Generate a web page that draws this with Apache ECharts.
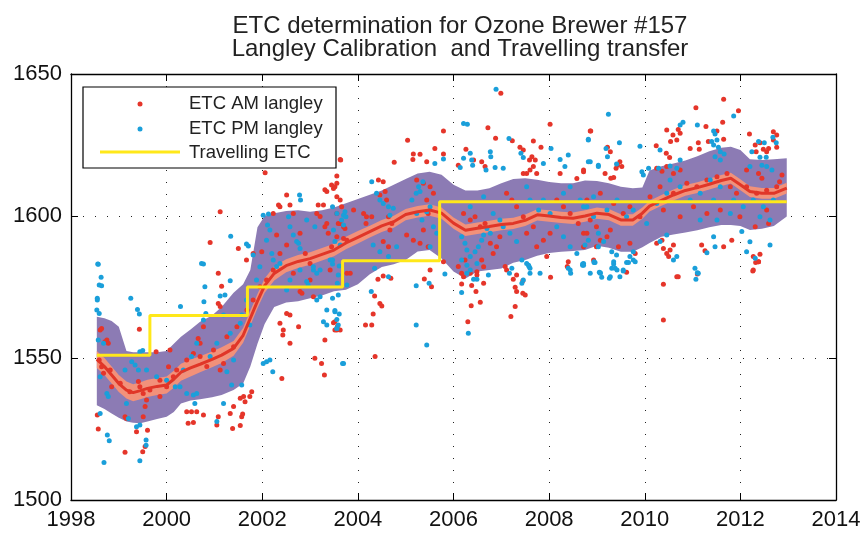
<!DOCTYPE html>
<html><head><meta charset="utf-8">
<script src="https://cdn.jsdelivr.net/npm/echarts@6/dist/echarts.min.js"></script>
<style>html,body{margin:0;padding:0;background:#fff}#c{width:864px;height:533px}</style>
</head><body><div id="c"></div>
<script>
// ---- data ----
const titleLines = ['ETC determination for Ozone Brewer #157', 'Langley Calibration  and Travelling transfer'];
const xTicks = [1998, 2014, 2];
const yTicks = [1500, 1650, 50];
const seriesNames = ['ETC AM langley', 'ETC PM langley', 'Travelling ETC'];

const bandX = [1998.54,1998.7,1998.85,1999.0,1999.16,1999.3,1999.45,1999.6,1999.8,2000.0,2000.15,2000.3,2000.5,2000.7,2000.95,2001.15,2001.4,2001.6,2001.75,2001.9,2002.05,2002.25,2002.5,2002.75,2003.0,2003.25,2003.5,2003.75,2004.0,2004.25,2004.5,2004.75,2005.0,2005.25,2005.5,2005.75,2006.0,2006.25,2006.5,2006.75,2007.0,2007.25,2007.5,2007.75,2008.0,2008.25,2008.5,2008.75,2009.0,2009.25,2009.5,2009.75,2009.95,2010.1,2010.35,2010.6,2010.85,2011.1,2011.35,2011.6,2011.8,2012.0,2012.2,2012.45,2012.7,2012.97];
const bandHi = [1564.5,1564,1563,1561,1552.5,1552,1552,1552,1552,1552.5,1555,1557.5,1560,1562.8,1565,1568,1573,1576,1581,1596,1600,1601,1601.8,1602,1601.5,1602,1603,1604.5,1606,1607.5,1609,1611,1613,1615,1615.6,1614.5,1611,1609,1609,1609.8,1611.5,1613,1613.3,1612.8,1612,1611.5,1611.5,1612.5,1612.3,1611.5,1610.3,1609.8,1610,1616,1617.5,1618.5,1619.5,1621,1622.8,1624,1624.4,1623.2,1620,1619.7,1620,1620.3];
const bandLo = [1533.4,1532,1530.5,1529,1527.6,1527.2,1527,1527.6,1528.5,1529.3,1531,1534,1535,1535.5,1536.2,1537,1538.7,1541,1547,1555,1562,1568,1569.5,1570,1571,1572,1573.5,1574,1576,1579.5,1582,1583,1584.5,1587.5,1588,1585,1580.5,1578,1580.5,1581,1581.5,1583.5,1584.5,1586,1587,1587.4,1587.7,1588,1589.5,1588.8,1587.4,1587.4,1589,1590.5,1592.7,1593.5,1594.2,1595,1596,1596.8,1596.8,1596.5,1595.1,1595.5,1596.5,1599.8];
const meanY = [1549.5,1547,1544,1541,1538.7,1537.8,1538.5,1539.3,1540,1540.5,1542.5,1545,1546.5,1547.8,1549.5,1551,1553.4,1558,1564,1570,1575.5,1579.8,1582.5,1584,1585,1586.5,1588,1590.5,1592.5,1594.5,1596.5,1598,1600.5,1601.5,1602.1,1601,1597.5,1595,1595.7,1596.3,1597,1597.4,1598.5,1600.4,1600,1599.5,1599.2,1600,1601,1600.5,1598.6,1598.6,1601,1603.5,1605.5,1607.4,1609,1610,1611.2,1612.5,1613.3,1611,1608.6,1608,1608,1609.8];
const meanErr = [3,3,3,3,3,3,3,3,3,3,3,3,3,2.8,2.8,2.8,2.6,2.6,2.6,2.5,2.5,2.5,2.3,2.3,2.2,2.2,2.2,2.2,2.2,2.1,2.1,2.1,2,2,2,2,2,2,2,2,2,2,2,2,2,2,2,2,2,2,2,2,2,1.9,1.9,1.9,1.9,1.9,1.9,1.9,1.9,1.9,1.9,1.9,1.9,1.9];

const stepX = [1998.54, 1999.65, 2001.69, 2003.68, 2005.71, 2012.97];
const stepY = [1551, 1565, 1575, 1584.2, 1605, 1605];

const amPts = [
[1998.64,1560.4],[1998.61,1559.9],[1998.71,1555.7],[1998.75,1556.3],[1998.78,1555.2],[1998.59,1549.3],[1998.64,1546.9],[1998.68,1544.6],[1998.82,1545.8],[1998.85,1539.9],[1998.55,1529.9],[1998.57,1525.0],[1999.13,1516.8],[1999.13,1529.3],[1999.16,1528.7],[1999.43,1560.1],[1999.78,1552.2],[1999.50,1517.0],[1999.55,1518.8],[1999.37,1524.0],[1999.60,1524.6],[1999.51,1529.3],[1999.55,1532.9],[1999.58,1535.2],[1999.51,1537.5],[1999.44,1539.9],[1999.41,1541.7],[1999.23,1538.1],[1999.03,1541.1],[2000.07,1552.8],[2000.04,1546.9],[2000.14,1543.4],[2000.66,1556.9],[2000.70,1555.2],[2001.08,1579.8],[2001.15,1575.3],[2001.08,1569.2],[2001.12,1568.1],[2001.19,1548.1],[2001.12,1545.8],[2000.42,1531.1],[2000.52,1531.1],[2000.63,1531.1],[2000.45,1527.0],[2000.56,1527.3],[2000.77,1529.9],[2001.08,1529.3],[2001.05,1526.4],[2001.38,1525.2],[2001.54,1526.2],[2001.33,1530.5],[2001.40,1532.9],[2001.57,1529.3],[2001.61,1536.4],[2001.64,1534.6],[2001.54,1535.8],[2001.59,1530.3],[2001.74,1536.4],[2001.78,1538.1],[2002.41,1542.8],[2002.37,1562.2],[2002.44,1559.9],[2002.43,1558.1],[2002.58,1555.2],[2002.51,1565.7],[2002.58,1565.1],[2002.76,1561.0],[2003.10,1549.9],[2003.30,1544.0],[2003.31,1556.3],[2003.24,1548.1],[2003.52,1562.8],[2003.56,1559.9],[2003.63,1559.9],[2002.79,1573.4],[2002.83,1572.8],[2003.07,1571.6],
[1999.86,1542.2],[2000.21,1545.8],[2000.42,1549.3],[2000.70,1550.5],[2000.84,1547],[2000.98,1552.8],[2001.26,1557.5],[2001.40,1554],[2001.47,1561],[2001.68,1566.9],[2001.81,1570.4],[2001.95,1575.1],[2002.09,1577.5],[2002.23,1581],[2002.65,1579.8],[2003.0,1577.5],[2003.42,1581],[2003.77,1579.8],[2000.77,1561],[2000.56,1551.6],[1999.65,1538.7],[1999.86,1536.4],[2000.0,1539.9],
[2003.63,1619.9],[2002.06,1615.2],[2003.56,1614.1],[2003.56,1611.5],[2003.49,1609.7],[2003.31,1609.2],[2003.35,1608.6],[2002.51,1607.4],[2002.34,1603.9],[2002.37,1603.3],[2001.12,1601.5],[2002.58,1603.9],[2002.65,1600.9],[2002.23,1600.9],[2003.17,1603.9],[2003.28,1603.9],[2003.14,1600.9],[2003.21,1599.8],[2003.35,1597.4],[2003.31,1596.2],[2003.38,1593.9],[2003.56,1592.7],[2003.70,1592.1],[2003.63,1597.4],[2003.70,1596.2],[2000.91,1590.7],[2001.50,1588.6],[2001.67,1584.5],[2001.81,1586.8],[2001.99,1587.4],[2002.30,1593.3],[2002.37,1586.8],[2002.51,1589.8],[2002.90,1586.8],[2003.00,1583.3],[2002.79,1593.9],[2003.91,1602.1],
[2006.99,1643.2],[2006.72,1631.1],[2005.79,1629.9],[2005.04,1626.7],[2006.88,1627.4],[2007.23,1626.5],[2008.02,1632.3],[2008.86,1629.9],[2007.67,1626.4],[2007.39,1624.2],[2007.46,1623.2],[2007.83,1624.2],[2005.61,1623.8],[2005.79,1621.8],[2005.16,1621.8],[2005.30,1621.7],[2003.64,1619.7],[2004.76,1618.9],[2005.15,1619.9],[2005.44,1619.1],[2006.10,1617.9],[2006.42,1619.7],[2006.26,1623.5],[2006.66,1617.4],[2006.59,1619.1],[2007.59,1619.7],[2007.64,1620.9],[2007.71,1619.7],[2007.60,1616.2],[2007.67,1617.4],[2007.53,1615.0],[2007.74,1615.0],[2007.46,1615.0],[2004.43,1612.7],[2004.53,1612.1],[2008.23,1615.0],[2008.72,1616.2],[2008.58,1613.2],
[2003.45,1610.9],[2003.52,1610.3],[2003.56,1606.8],[2003.63,1605.6],[2003.66,1603.3],[2003.56,1600.9],[2003.59,1597.4],[2003.45,1589.2],[2003.73,1595.6],[2003.77,1591.5],[2004.12,1600.9],[2004.18,1599.7],[2004.17,1597.4],[2004.29,1599.7],[2004.46,1607.4],[2004.57,1608.6],[2004.60,1605.6],[2004.64,1599.7],[2004.71,1597.4],[2004.67,1595.1],[2004.53,1591.0],[2004.64,1589.2],[2005.02,1593.3],[2005.16,1591.5],[2005.30,1590.4],[2005.37,1595.1],[2005.47,1589.2],[2005.23,1612.7],[2005.37,1611.5],[2005.51,1610.3],[2005.58,1608.0],[2005.44,1605.6],[2005.47,1600.9],
[2006.10,1582.2],[2006.17,1579.8],[2006.24,1584.5],[2006.35,1579.8],[2006.49,1580.4],[2006.59,1584.5],[2006.63,1582.1],[2006.21,1600.9],[2006.35,1598.6],[2006.45,1599.7],[2006.56,1596.2],[2006.66,1597.4],[2006.77,1590.4],[2006.83,1586.8],[2006.90,1589.2],[2006.97,1592.7],[2007.11,1608.0],[2007.22,1605.6],[2007.32,1603.3],[2007.46,1599.7],[2007.53,1593.9],[2007.67,1596.2],[2007.74,1589.2],[2007.88,1591.5],[2007.95,1585.7],[2008.02,1593.9],[2008.16,1605.6],[2008.30,1603.3],[2008.44,1600.9],[2008.61,1597.4],[2008.72,1593.9],[2008.86,1598.6],[2008.99,1596.2],[2008.72,1589.2],[2008.99,1589.2],[2008.93,1584.5],
[2003.84,1579.8],[2003.49,1562.4],[2003.52,1559.9],[2003.57,1561.0],[2004.16,1561.6],[2004.29,1561.6],[2004.35,1571.8],[2004.46,1569.2],[2004.50,1568.3],[2004.32,1565.5],[2004.36,1550.5],[2005.39,1577.8],[2005.54,1575.1],[2005.51,1581.0],[2004.42,1577.7],[2004.53,1578.9],[2004.69,1578.1],[2005.79,1583.9],[2006.17,1576.1],[2006.38,1575.5],[2006.63,1576.3],[2006.47,1573.4],[2006.56,1569.6],[2006.37,1568.4],[2006.30,1562.8],[2006.21,1578.6],[2006.49,1579.2],[2007.08,1582.2],[2007.11,1581.0],[2007.32,1579.2],[2007.25,1577.7],[2007.45,1577.2],[2007.29,1574.9],[2007.32,1573.4],[2007.45,1572.8],[2007.50,1572.2],[2007.29,1568.1],[2007.20,1564.6],[2008.03,1578.4],[2008.40,1583.9],[2008.38,1582.2],
[2011.65,1641.1],[2011.07,1638.1],[2011.96,1637.1],[2011.63,1633.0],[2011.28,1631.5],[2008.87,1629.9],[2010.46,1630.3],[2010.70,1630.5],[2010.74,1629.1],[2010.59,1628.5],[2010.67,1626.8],[2010.54,1626.2],[2011.51,1629.9],[2011.65,1627.0],[2012.19,1628.9],[2012.69,1629.7],[2012.76,1628.5],[2012.69,1626.8],[2012.41,1625.8],[2012.48,1623.5],[2012.31,1625.0],[2012.33,1622.6],[2012.55,1622.6],[2012.59,1623.8],[2012.76,1624.2],[2009.22,1624.2],[2009.28,1622.6],[2009.43,1617.9],[2009.48,1619.1],[2009.52,1617.4],[2009.40,1616.8],[2010.24,1624.7],[2010.45,1622.1],[2010.52,1620.6],[2010.95,1623.8],[2011.12,1625.8],[2011.33,1626.2],[2011.14,1623.5],[2008.72,1615.6],[2009.17,1615.0],[2009.35,1613.6],[2009.29,1613.3],[2010.25,1616.8],[2010.36,1615.8],[2010.46,1617.4],[2010.60,1615.0],[2010.74,1616.2],[2012.13,1616.2],[2012.38,1615.0],[2012.45,1613.3],[2012.87,1614.4],[2012.82,1612.1],
[2008.79,1605.6],[2009.07,1608.0],[2009.35,1604.4],[2009.55,1600.9],[2009.69,1603.3],[2009.90,1599.7],[2010.11,1606.8],[2010.32,1610.3],[2010.60,1608.0],[2010.88,1611.5],[2011.09,1610.3],[2011.30,1612.7],[2011.51,1613.8],[2011.72,1615.0],[2011.79,1610.3],[2011.92,1608.0],[2012.13,1610.3],[2012.34,1608.0],[2012.55,1609.1],[2012.76,1610.3],[2011.02,1603.3],[2011.30,1600.9],[2011.58,1602.1],[2011.99,1599.7],[2012.55,1602.1],[2010.74,1599.7],[2010.39,1602.1],
[2008.79,1593.9],[2009.07,1591.5],[2009.21,1592.7],[2009.28,1595.1],[2009.45,1589.2],[2009.69,1590.4],[2009.80,1586.8],[2010.39,1588.6],[2010.46,1586.8],[2010.50,1585.7],[2010.53,1588.0],[2010.60,1589.8],[2010.36,1591.5],[2010.25,1590.4],[2010.67,1578.6],[2011.26,1587.8],[2011.19,1589.8],[2011.65,1589.2],[2011.82,1591.5],[2012.27,1585.7],[2012.38,1583.9],[2012.41,1586.5],[2012.27,1581.0],[2012.31,1596.2],[2012.59,1597.4],
[2009.62,1580.2],[2010.39,1576.0],[2010.39,1563.4],[2010.70,1578.6],[2011.10,1579.6],[2012.26,1580.6],[2012.32,1583.6],[2012.38,1583.9]
];

const pmPts = [
[1998.56,1583.1],[1998.63,1578.4],[1998.59,1575.7],[1998.64,1575.4],[1998.55,1571.0],[1998.55,1570.4],[1998.54,1566.9],[1998.59,1565.7],[1998.57,1556.3],[1998.68,1555.2],[1999.25,1571.0],[1999.39,1567.1],[1999.43,1565.5],[1999.44,1552.2],[1999.50,1552.6],[1999.27,1548.7],[1999.34,1547.5],[1999.13,1545.8],[1999.41,1545.8],[1999.58,1545.8],[1998.61,1543.4],[1998.75,1537.5],[1998.78,1536.4],[1999.16,1534.0],[1999.20,1528.7],[1999.44,1526.4],[1999.37,1525.8],[1998.61,1530.5],[1998.76,1522.9],[1998.80,1520.9],[1998.69,1513.2],[1999.44,1513.8],[1999.57,1521.1],[1999.57,1519.3],[2000.77,1583.1],[2000.80,1575.1],[2000.78,1569.8],[2000.29,1568.1],[2000.82,1565.7],[2000.77,1563.4],[2001.12,1571.8],[2001.22,1572.2],[2001.33,1577.2],[2001.19,1565.1],[2000.52,1550.5],[2000.63,1555.2],[2000.18,1539.9],[2000.28,1539.9],[2000.42,1537.5],[2000.56,1537.0],[2000.63,1537.5],[2001.05,1527.6],[2001.19,1534.0],[2001.36,1540.5],[2001.57,1540.5],[2001.26,1545.2],[2001.40,1549.3],[2000.59,1534.0],[2001.54,1562.2],[2001.57,1565.1],[2001.74,1561.6],[2002.02,1548.1],[2002.09,1548.7],[2002.16,1549.3],[2002.22,1545.2],[2003.35,1566.9],[2003.52,1566.3],[2003.28,1562.8],[2003.35,1561.6],[2003.56,1560.4],[2003.59,1561.6],[2003.70,1548.1],[2003.14,1570.4],[2003.21,1571.6],[2003.07,1581.0],[2003.14,1579.8],[2002.93,1576.9],[2002.96,1575.7],
[1999.79,1543.4],[2000.0,1542.2],[2000.35,1545.8],[2000.91,1550.5],[2001.05,1555.2],[2001.33,1558.7],[2001.67,1570.4],[2001.88,1577.5],[2002.30,1582.2],[2002.58,1577.5],[2002.79,1581],[2002.51,1573.9],
[2002.78,1607.4],[2002.80,1605.6],[2002.02,1600.3],[2002.13,1600.7],[2002.11,1596.8],[2002.16,1595.1],[2002.55,1599.7],[2002.58,1596.2],[2002.65,1593.3],[2002.72,1591.0],[2003.10,1596.2],[2003.70,1600.3],[2003.73,1601.5],[2003.75,1599.7],[2001.34,1592.9],[2001.67,1590.1],[2001.71,1589.4],[2000.73,1583.3],[1998.57,1583.0],[2001.81,1586.3],[2001.95,1582.1],[2002.20,1586.8],[2002.23,1584.5],[2002.37,1583.3],[2002.76,1590.4],[2002.79,1588.6],[2003.07,1582.1],[2003.21,1581.0],[2003.42,1584.5],[2002.09,1591.5],[2002.93,1598.6],
[2006.89,1644.6],[2006.21,1632.6],[2006.29,1632.3],[2007.16,1627.3],[2008.04,1623.8],[2008.82,1626.8],[2005.79,1620.1],[2005.61,1618.5],[2006.21,1620.3],[2006.14,1617.1],[2006.38,1619.7],[2006.40,1617.9],[2006.35,1622.1],[2006.77,1622.6],[2006.78,1620.9],[2006.68,1616.2],[2006.87,1617.1],[2007.04,1616.8],[2007.41,1622.1],[2007.46,1620.6],[2007.88,1618.5],[2008.23,1619.9],[2008.40,1621.5],[2008.33,1617.4],[2008.86,1619.1],[2009.03,1617.9],[2004.29,1612.1],[2005.27,1610.3],[2005.36,1612.1],
[2003.47,1603.3],[2003.56,1600.9],[2003.66,1598.6],[2003.70,1596.8],[2003.49,1595.1],[2003.52,1591.0],[2003.63,1589.8],[2003.47,1584.5],[2004.39,1608.0],[2004.46,1605.6],[2004.53,1604.4],[2004.64,1603.3],[2004.67,1600.3],[2004.74,1602.7],[2004.32,1589.8],[2004.46,1587.4],[2004.64,1585.7],[2004.81,1589.2],[2005.13,1605.6],[2005.23,1600.9],[2005.34,1598.6],[2005.44,1601.5],[2005.51,1603.3],[2005.58,1596.2],[2005.65,1593.9],[2005.51,1589.2],[2005.22,1608.0],[2005.30,1608.6],
[2006.17,1592.7],[2006.24,1590.4],[2006.28,1588.0],[2006.35,1585.7],[2006.45,1587.4],[2006.52,1589.2],[2006.59,1591.5],[2006.63,1593.3],[2006.70,1595.6],[2006.77,1593.9],[2006.49,1583.3],[2006.17,1584.5],[2006.28,1579.8],[2006.35,1603.3],[2006.63,1606.8],[2006.83,1600.9],[2006.97,1598.6],[2007.04,1596.2],[2007.18,1593.9],[2007.32,1591.0],[2007.43,1584.5],[2007.53,1583.3],[2007.60,1579.8],[2007.53,1610.3],[2007.60,1605.6],[2007.78,1602.1],[2007.88,1605.6],[2008.02,1600.9],[2008.16,1596.2],[2008.30,1592.7],[2008.44,1589.2],[2008.58,1586.8],[2008.72,1583.3],[2008.86,1579.8],[2008.30,1608.0],[2008.44,1610.3],[2008.65,1605.6],[2008.79,1603.3],[2008.93,1599.7],[2009.03,1593.9],
[2003.47,1583.1],[2003.61,1582.4],[2003.59,1579.2],[2003.77,1575.7],[2003.57,1576.3],[2003.59,1572.2],[2003.47,1571.0],[2003.52,1566.7],[2003.61,1565.5],[2003.56,1563.6],[2003.56,1560.4],[2004.28,1573.4],[2003.68,1548.1],[2005.22,1561.6],[2005.44,1554.6],[2005.22,1575.4],[2005.49,1576.3],[2004.35,1581.6],[2004.64,1578.6],[2005.82,1579.6],[2006.31,1558.7],[2006.17,1573.1],[2006.28,1582.7],[2006.35,1581.0],[2006.42,1577.7],[2006.49,1577.7],[2006.73,1579.2],[2007.43,1576.3],[2007.46,1577.5],[2007.58,1582.2],[2007.60,1581.6],[2007.57,1582.7],[2007.22,1581.6],[2007.17,1579.8],[2007.81,1579.8],[2008.44,1581.0],[2008.45,1579.8],[2008.40,1581.6],[2008.72,1582.7],[2008.96,1583.6],[2009.07,1580.0],
[2011.86,1635.2],[2009.24,1635.8],[2010.80,1633.0],[2010.74,1632.0],[2011.10,1632.0],[2011.44,1629.9],[2011.47,1628.9],[2011.40,1626.2],[2012.68,1627.7],[2012.75,1625.8],[2012.38,1626.2],[2012.50,1625.8],[2012.24,1622.6],[2012.41,1620.7],[2012.54,1620.7],[2008.82,1627.0],[2009.19,1623.8],[2009.47,1625.8],[2009.90,1624.6],[2010.32,1623.2],[2009.22,1620.9],[2009.03,1617.4],[2008.82,1619.1],[2009.41,1618.3],[2011.51,1626.8],[2011.54,1624.2],[2011.44,1625.0],[2011.58,1622.6],[2011.47,1620.9],[2011.66,1621.8],[2011.58,1619.7],[2009.94,1615.6],[2010.08,1616.8],[2009.97,1614.4],[2010.29,1616.8],[2010.53,1617.6],[2010.67,1616.8],[2010.74,1619.7],[2012.20,1617.4],[2012.45,1617.9],[2012.55,1617.4],[2012.66,1616.2],
[2008.72,1603.3],[2008.93,1606.8],[2009.21,1602.1],[2009.42,1605.6],[2009.62,1599.7],[2009.76,1602.1],[2010.04,1597.4],[2010.25,1604.4],[2010.46,1608.0],[2010.53,1612.7],[2010.74,1610.3],[2010.95,1605.6],[2011.16,1608.0],[2011.37,1612.7],[2011.44,1605.6],[2011.58,1610.3],[2011.86,1605.6],[2012.06,1603.3],[2012.27,1605.6],[2012.48,1603.3],[2012.69,1605.6],[2012.41,1599.7],[2012.62,1598.6],[2011.16,1598.6],[2011.51,1598.6],[2011.79,1600.9],
[2008.70,1583.1],[2008.94,1583.9],[2009.35,1583.9],[2009.38,1581.6],[2009.55,1581.0],[2009.62,1583.6],[2009.76,1584.5],[2009.28,1578.6],[2009.48,1578.6],[2009.07,1579.8],[2011.05,1581.6],[2011.12,1579.8],[2011.44,1592.7],[2011.47,1589.2],[2011.30,1587.1],[2012.03,1594.5],[2012.20,1590.9],[2012.13,1587.4],[2012.62,1589.8],[2012.31,1585.1],[2010.32,1591.0],[2010.46,1593.3],[2010.60,1584.5],[2010.67,1585.7],[2008.75,1589.8],[2008.82,1591.5],[2009.03,1589.2],[2009.14,1591.0],[2009.31,1587.4],[2009.41,1586.3],[2009.76,1587.4],[2009.69,1585.7],
[2008.70,1582.7],[2008.94,1583.6],[2009.05,1580.2],[2009.10,1578.4],[2009.26,1578.1],[2009.31,1581.6],[2009.35,1583.1],[2009.42,1581.0],[2009.55,1580.6],[2009.66,1583.6],[2009.80,1583.9],[2011.07,1577.7],[2011.10,1580.0]
];

// ---- derived rows for the library ----
const bandRows = bandX.map((x, i) => [x, bandLo[i], bandHi[i]]);
const errRows = bandX.map((x, i) => [x, meanY[i] - meanErr[i], meanY[i] + meanErr[i]]);
const meanRows = bandX.map((x, i) => [x, meanY[i]]);
const stepRows = stepX.map((x, i) => [x, stepY[i]]);

const FONT = 'Liberation Sans, Arial, Helvetica, sans-serif';
const C_RED = '#e5352a', C_BLUE = '#1a9fda', C_PURPLE = '#8c7bb4', C_SALMON = '#f2917a', C_YELLOW = '#ffe81a', C_MEAN = '#e03628';

function bandRender(rows, color) {
  return function (params, api) {
    if (params.dataIndex !== 0) return null;
    const top = rows.map(r => api.coord([r[0], r[2]]));
    const bot = rows.map(r => api.coord([r[0], r[1]])).reverse();
    return { type: 'polygon', shape: { points: top.concat(bot) }, style: { fill: color }, silent: true };
  };
}

const chart = echarts.init(document.getElementById('c'), null, { renderer: 'canvas' });
const dotted = { color: '#222', width: 1, type: [1, 11] };
const tick = { show: true, inside: true, length: 7, lineStyle: { color: '#000', width: 1 } };
const axisLine = { show: true, onZero: false, lineStyle: { color: '#000', width: 1.3 } };

chart.setOption({
  animation: false,
  backgroundColor: '#fff',
  title: {
    text: titleLines.join('\n'), left: 455, top: 10, textAlign: 'center',
    textStyle: { fontFamily: FONT, fontSize: 24, fontWeight: 'normal', color: '#222', lineHeight: 23 }
  },
  grid: { left: 71, right: 28, top: 74, bottom: 33, show: false },
  xAxis: [
    { type: 'value', min: xTicks[0], max: xTicks[1], interval: xTicks[2], position: 'bottom',
      axisLine: axisLine, axisTick: tick,
      axisLabel: { fontFamily: FONT, fontSize: 22, color: '#111', margin: 9, formatter: v => String(v) },
      splitLine: { show: true, lineStyle: dotted } },
    { type: 'value', min: xTicks[0], max: xTicks[1], interval: xTicks[2], position: 'top',
      axisLine: axisLine, axisTick: tick, axisLabel: { show: false }, splitLine: { show: false } }
  ],
  yAxis: [
    { type: 'value', min: yTicks[0], max: yTicks[1], interval: yTicks[2], position: 'left',
      axisLine: axisLine, axisTick: tick,
      axisLabel: { fontFamily: FONT, fontSize: 22, color: '#111', margin: 9, formatter: v => String(v) },
      splitLine: { show: true, lineStyle: dotted } },
    { type: 'value', min: yTicks[0], max: yTicks[1], interval: yTicks[2], position: 'right',
      axisLine: axisLine, axisTick: tick, axisLabel: { show: false }, splitLine: { show: false } }
  ],
  series: [
    { type: 'custom', name: 'band', data: bandRows, renderItem: bandRender(bandRows, C_PURPLE), z: 1, silent: true },
    { type: 'custom', name: 'err', data: errRows, renderItem: bandRender(errRows, C_SALMON), z: 2, silent: true },
    { type: 'scatter', name: seriesNames[0], data: amPts, symbolSize: 5, itemStyle: { color: C_RED, opacity: 1 }, z: 3 },
    { type: 'scatter', name: seriesNames[1], data: pmPts, symbolSize: 5, itemStyle: { color: C_BLUE, opacity: 1 }, z: 3 },
    { type: 'line', name: 'mean', data: meanRows, showSymbol: false, lineStyle: { color: C_MEAN, width: 3 }, z: 4 },
    { type: 'line', name: seriesNames[2], data: stepRows, step: 'end', showSymbol: false, lineStyle: { color: C_YELLOW, width: 3 }, z: 5 }
  ],
  graphic: [
    { type: 'rect', shape: { x: 83, y: 87, width: 253, height: 81 }, style: { fill: '#fff', stroke: '#000', lineWidth: 1.2 }, z: 100 },
    { type: 'circle', shape: { cx: 140, cy: 104, r: 2.5 }, style: { fill: C_RED }, z: 101 },
    { type: 'circle', shape: { cx: 140, cy: 129, r: 2.5 }, style: { fill: C_BLUE }, z: 101 },
    { type: 'line', shape: { x1: 100, y1: 152, x2: 180, y2: 152 }, style: { stroke: C_YELLOW, lineWidth: 3 }, z: 101 },
    { type: 'text', x: 189, y: 104, style: { text: seriesNames[0], font: '18.5px ' + FONT, fill: '#222', textVerticalAlign: 'middle' }, z: 101 },
    { type: 'text', x: 189, y: 129, style: { text: seriesNames[1], font: '18.5px ' + FONT, fill: '#222', textVerticalAlign: 'middle' }, z: 101 },
    { type: 'text', x: 189, y: 153, style: { text: seriesNames[2], font: '18.5px ' + FONT, fill: '#222', textVerticalAlign: 'middle' }, z: 101 }
  ]
});
</script></body></html>
